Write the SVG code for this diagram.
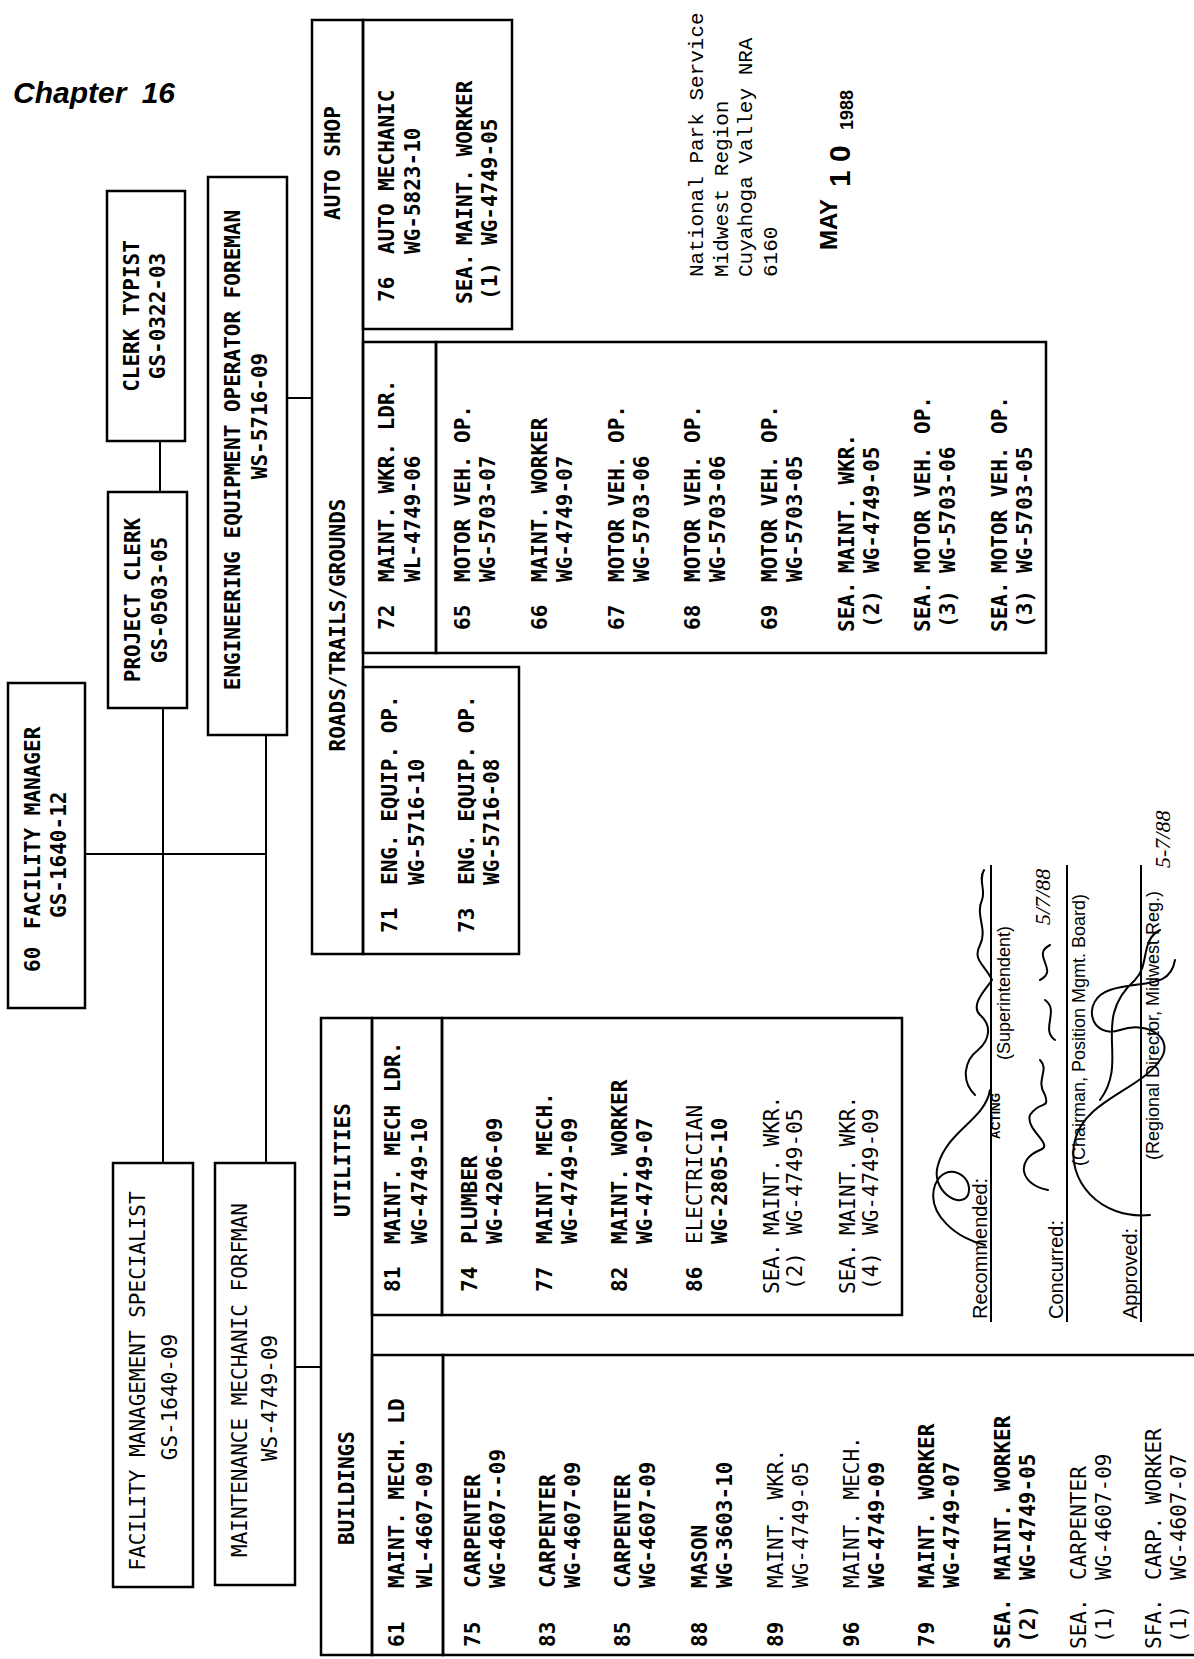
<svg xmlns="http://www.w3.org/2000/svg" width="1194" height="1659" viewBox="0 0 1194 1659">
<style>
.bx{fill:none;stroke:#000;stroke-width:2.5}
.cn{fill:none;stroke:#000;stroke-width:2}
.m{font-family:"DejaVu Sans Mono","Liberation Mono",monospace;font-size:21px;font-weight:bold;fill:#000}
.mr{font-family:"DejaVu Sans Mono","Liberation Mono",monospace;font-size:21px;font-weight:normal;fill:#000}
.mid{text-anchor:middle}
.np{font-family:"Liberation Mono",monospace;font-size:21px;fill:#000}
.sl{font-family:"Liberation Sans",Arial,sans-serif;font-size:20px;fill:#000}
.lb{font-family:"Liberation Sans",Arial,sans-serif;font-size:18px;fill:#000}
.hw{font-family:"Liberation Serif",serif;font-style:italic;font-size:22px;fill:#000}
.sig{fill:none;stroke:#000;stroke-width:2;stroke-linecap:round}
</style>
<rect width="1194" height="1659" fill="#fff"/>
<text x="13" y="103" style="font-family:'Liberation Sans',Arial,sans-serif;font-weight:bold;font-style:italic;font-size:30px;word-spacing:7px">Chapter 16</text>

<g transform="translate(0,1659) rotate(-90)">
<g id="connectors">
<line class="cn" x1="1218" y1="160" x2="1167" y2="160"/>
<line class="cn" x1="951" y1="163" x2="496" y2="163"/>
<line class="cn" x1="924" y1="266" x2="496" y2="266"/>
<line class="cn" x1="805" y1="85" x2="805" y2="266"/>
<line class="cn" x1="1261" y1="287" x2="1261" y2="312"/>
<line class="cn" x1="292" y1="295" x2="292" y2="321"/>
</g>

<g id="facility-manager">
<rect class="bx" x="651" y="8" width="325" height="77"/>
<text class="m" x="687" y="40">60</text>
<text class="m" x="730" y="40">FACILITY MANAGER</text>
<text class="m" x="741" y="66">GS-1640-12</text>
</g>
<g id="clerk-typist">
<rect class="bx" x="1218" y="107" width="250" height="78"/>
<text class="m mid" x="1343" y="139">CLERK TYPIST</text>
<text class="m mid" x="1343" y="165">GS-0322-03</text>
</g>
<g id="project-clerk">
<rect class="bx" x="951" y="108" width="216" height="79"/>
<text class="m mid" x="1059" y="140">PROJECT CLERK</text>
<text class="m mid" x="1059" y="167">GS-0503-05</text>
</g>
<g id="eng-foreman">
<rect class="bx" x="924" y="208" width="558" height="79"/>
<text class="m mid" x="1209" y="240">ENGINEERING EQUIPMENT OPERATOR FOREMAN</text>
<text class="m mid" x="1243" y="267">WS-5716-09</text>
</g>
<g id="fm-specialist">
<rect class="bx" x="72" y="113" width="424" height="80"/>
<text class="mr mid" x="278" y="145">FACILITY MANAGEMENT SPECIALIST</text>
<text class="mr mid" x="262" y="177">GS-1640-09</text>
</g>
<g id="maint-foreman">
<rect class="bx" x="74" y="215" width="422" height="80"/>
<text class="mr mid" x="279" y="247">MAINTENANCE MECHANIC FORFMAN</text>
<text class="mr mid" x="261" y="277">WS-4749-09</text>
</g>

<g id="auto-shop">
<rect class="bx" x="705" y="312" width="934" height="51"/>
<text class="m mid" x="1496" y="340">AUTO SHOP</text>
<rect class="bx" x="1330" y="363" width="309" height="149"/>
<text class="m" x="1357" y="394">76</text>
<text class="m" x="1405" y="394">AUTO MECHANIC</text>
<text class="m" x="1405" y="420">WG-5823-10</text>
<text class="m" x="1355" y="472">SEA.</text>
<text class="m" x="1414" y="472">MAINT. WORKER</text>
<text class="m" x="1359" y="497">(1)</text>
<text class="m" x="1414" y="497">WG-4749-05</text>
</g>

<g id="roads-trails-grounds">
<text class="m mid" x="1034" y="345">ROADS/TRAILS/GROUNDS</text>
<rect class="bx" x="1006" y="363" width="311" height="73"/>
<rect class="bx" x="1006" y="436" width="311" height="610"/>
<text class="m" x="1029" y="394">72</text>
<text class="m" x="1077" y="394">MAINT. WKR. LDR.</text>
<text class="m" x="1077" y="420">WL-4749-06</text>
<text class="m" x="1029" y="470">65</text>
<text class="m" x="1077" y="470">MOTOR VEH. OP.</text>
<text class="m" x="1077" y="495">WG-5703-07</text>
<text class="m" x="1029" y="547">66</text>
<text class="m" x="1077" y="547">MAINT. WORKER</text>
<text class="m" x="1077" y="572">WG-4749-07</text>
<text class="m" x="1029" y="624">67</text>
<text class="m" x="1077" y="624">MOTOR VEH. OP.</text>
<text class="m" x="1077" y="649">WG-5703-06</text>
<text class="m" x="1029" y="700">68</text>
<text class="m" x="1077" y="700">MOTOR VEH. OP.</text>
<text class="m" x="1077" y="725">WG-5703-06</text>
<text class="m" x="1029" y="777">69</text>
<text class="m" x="1077" y="777">MOTOR VEH. OP.</text>
<text class="m" x="1077" y="802">WG-5703-05</text>
<text class="m" x="1027" y="854">SEA.</text>
<text class="m" x="1086" y="854">MAINT. WKR.</text>
<text class="m" x="1031" y="879">(2)</text>
<text class="m" x="1086" y="879">WG-4749-05</text>
<text class="m" x="1027" y="930">SEA.</text>
<text class="m" x="1086" y="930">MOTOR VEH. OP.</text>
<text class="m" x="1031" y="955">(3)</text>
<text class="m" x="1086" y="955">WG-5703-06</text>
<text class="m" x="1027" y="1007">SEA.</text>
<text class="m" x="1086" y="1007">MOTOR VEH. OP.</text>
<text class="m" x="1031" y="1032">(3)</text>
<text class="m" x="1086" y="1032">WG-5703-05</text>
<rect class="bx" x="705" y="363" width="287" height="156"/>
<text class="m" x="726" y="397">71</text>
<text class="m" x="774" y="397">ENG. EQUIP. OP.</text>
<text class="m" x="774" y="424">WG-5716-10</text>
<text class="m" x="726" y="474">73</text>
<text class="m" x="774" y="474">ENG. EQUIP. OP.</text>
<text class="m" x="774" y="499">WG-5716-08</text>
</g>

<g id="utilities">
<rect class="bx" x="4" y="321" width="637" height="51"/>
<text class="m mid" x="499" y="350">UTILITIES</text>
<rect class="bx" x="344" y="372" width="297" height="70"/>
<rect class="bx" x="344" y="442" width="297" height="460"/>
<text class="m" x="367" y="400">81</text>
<text class="m" x="415" y="400">MAINT. MECH LDR.</text>
<text class="m" x="415" y="427">WG-4749-10</text>
<text class="m" x="367" y="477">74</text>
<text class="m" x="415" y="477">PLUMBER</text>
<text class="m" x="415" y="502">WG-4206-09</text>
<text class="m" x="367" y="552">77</text>
<text class="m" x="415" y="552">MAINT. MECH.</text>
<text class="m" x="415" y="577">WG-4749-09</text>
<text class="m" x="367" y="627">82</text>
<text class="m" x="415" y="627">MAINT. WORKER</text>
<text class="m" x="415" y="652">WG-4749-07</text>
<text class="m" x="367" y="702">86</text>
<text class="mr" x="415" y="702">ELECTRICIAN</text>
<text class="m" x="415" y="727">WG-2805-10</text>
<text class="mr" x="365" y="779">SEA.</text>
<text class="mr" x="424" y="779">MAINT. WKR.</text>
<text class="mr" x="369" y="802">(2)</text>
<text class="mr" x="424" y="802">WG-4749-05</text>
<text class="mr" x="365" y="855">SEA.</text>
<text class="mr" x="424" y="855">MAINT. WKR.</text>
<text class="mr" x="369" y="878">(4)</text>
<text class="mr" x="424" y="878">WG-4749-09</text>
</g>

<g id="buildings">
<text class="m mid" x="171" y="354">BUILDINGS</text>
<rect class="bx" x="4" y="372" width="300" height="71"/>
<rect class="bx" x="4" y="443" width="300" height="760"/>
<text class="m" x="12" y="404">61</text>
<text class="m" x="71" y="404">MAINT. MECH. LD</text>
<text class="m" x="71" y="432">WL-4607-09</text>
<text class="m" x="12" y="480">75</text>
<text class="m" x="71" y="480">CARPENTER</text>
<text class="m" x="71" y="505">WG-4607--09</text>
<text class="m" x="12" y="555">83</text>
<text class="m" x="71" y="555">CARPENTER</text>
<text class="m" x="71" y="580">WG-4607-09</text>
<text class="m" x="12" y="630">85</text>
<text class="m" x="71" y="630">CARPENTER</text>
<text class="m" x="71" y="655">WG-4607-09</text>
<text class="m" x="12" y="707">88</text>
<text class="m" x="71" y="707">MASON</text>
<text class="m" x="71" y="732">WG-3603-10</text>
<text class="m" x="12" y="783">89</text>
<text class="mr" x="71" y="783">MAINT. WKR.</text>
<text class="mr" x="71" y="808">WG-4749-05</text>
<text class="m" x="12" y="859">96</text>
<text class="mr" x="71" y="859">MAINT. MECH.</text>
<text class="m" x="71" y="884">WG-4749-09</text>
<text class="m" x="12" y="934">79</text>
<text class="m" x="71" y="934">MAINT. WORKER</text>
<text class="m" x="71" y="959">WG-4749-07</text>
<text class="m" x="10" y="1010">SEA.</text>
<text class="m" x="79" y="1010">MAINT. WORKER</text>
<text class="m" x="16" y="1035">(2)</text>
<text class="m" x="79" y="1035">WG-4749-05</text>
<text class="mr" x="10" y="1086">SEA.</text>
<text class="mr" x="79" y="1086">CARPENTER</text>
<text class="mr" x="16" y="1111">(1)</text>
<text class="mr" x="79" y="1111">WG-4607-09</text>
<text class="mr" x="10" y="1161">SFA.</text>
<text class="mr" x="79" y="1161">CARP. WORKER</text>
<text class="mr" x="16" y="1186">(1)</text>
<text class="mr" x="79" y="1186">WG-4607-07</text>
</g>

<g id="nps-header">
<text class="np" x="1382" y="703">National Park Service</text>
<text class="np" x="1382" y="728">Midwest Region</text>
<text class="np" x="1382" y="752">Cuyahoga Valley NRA</text>
<text class="np" x="1382" y="777">6160</text>
<text x="1409" y="837" style="font-family:'Liberation Sans',Arial,sans-serif;font-weight:bold;font-size:24px">MAY</text>
<text x="1472" y="850" style="font-family:'Liberation Sans',Arial,sans-serif;font-weight:bold;font-size:30px">1 0</text>
<text x="1529" y="853" style="font-family:'Liberation Sans',Arial,sans-serif;font-weight:bold;font-size:18px">1988</text>
</g>

<g id="approvals">
<text class="sl" x="340" y="987">Recommended:</text>
<text class="sl" x="340" y="1063">Concurred:</text>
<text class="sl" x="340" y="1137">Approved:</text>
<line class="cn" x1="337" y1="991" x2="794" y2="991"/>
<line class="cn" x1="337" y1="1067" x2="794" y2="1067"/>
<line class="cn" x1="337" y1="1141" x2="794" y2="1141"/>
<text class="lb" x="599" y="1010">(Superintendent)</text>
<text class="lb" x="493" y="1085">(Chairman, Position Mgmt. Board)</text>
<text class="lb" x="499" y="1159">(Regional Director, Midwest Reg.)</text>
<text x="520" y="1000" style="font-family:'Liberation Sans',Arial,sans-serif;font-weight:bold;font-size:12px">ACTING</text>
<text class="hw" x="734" y="1050">5/7/88</text>
<text class="hw" x="791" y="1170">5-7/88</text>
</g>
</g>

<g id="signatures">
<path class="sig" d="M985 1245 C960 1240 925 1215 935 1185 C945 1160 975 1175 968 1195 C960 1210 930 1190 938 1165 C948 1130 985 1120 990 1090 M975 1095 C960 1080 965 1060 978 1050 C990 1040 992 1025 980 1015 C970 1005 985 990 992 980 C985 965 972 960 980 945 C988 930 975 915 982 900 C986 890 978 880 984 870"/>
<path class="sig" d="M1048 1190 C1020 1185 1015 1160 1040 1150 C1055 1145 1025 1130 1030 1115 C1040 1100 1050 1110 1045 1095 C1035 1080 1050 1070 1040 1060 M1055 1040 C1040 1030 1060 1010 1045 1000 M1040 980 C1060 970 1030 955 1050 945"/>
<path class="sig" d="M1150 1215 C1100 1220 1065 1180 1075 1140 C1085 1100 1140 1090 1160 1060 C1175 1040 1150 1020 1120 1030 C1090 1040 1080 1000 1110 990 C1140 980 1170 990 1175 960 M1100 1100 C1130 1060 1090 1020 1135 980 C1150 965 1140 940 1160 930"/>
</g>
</svg>
